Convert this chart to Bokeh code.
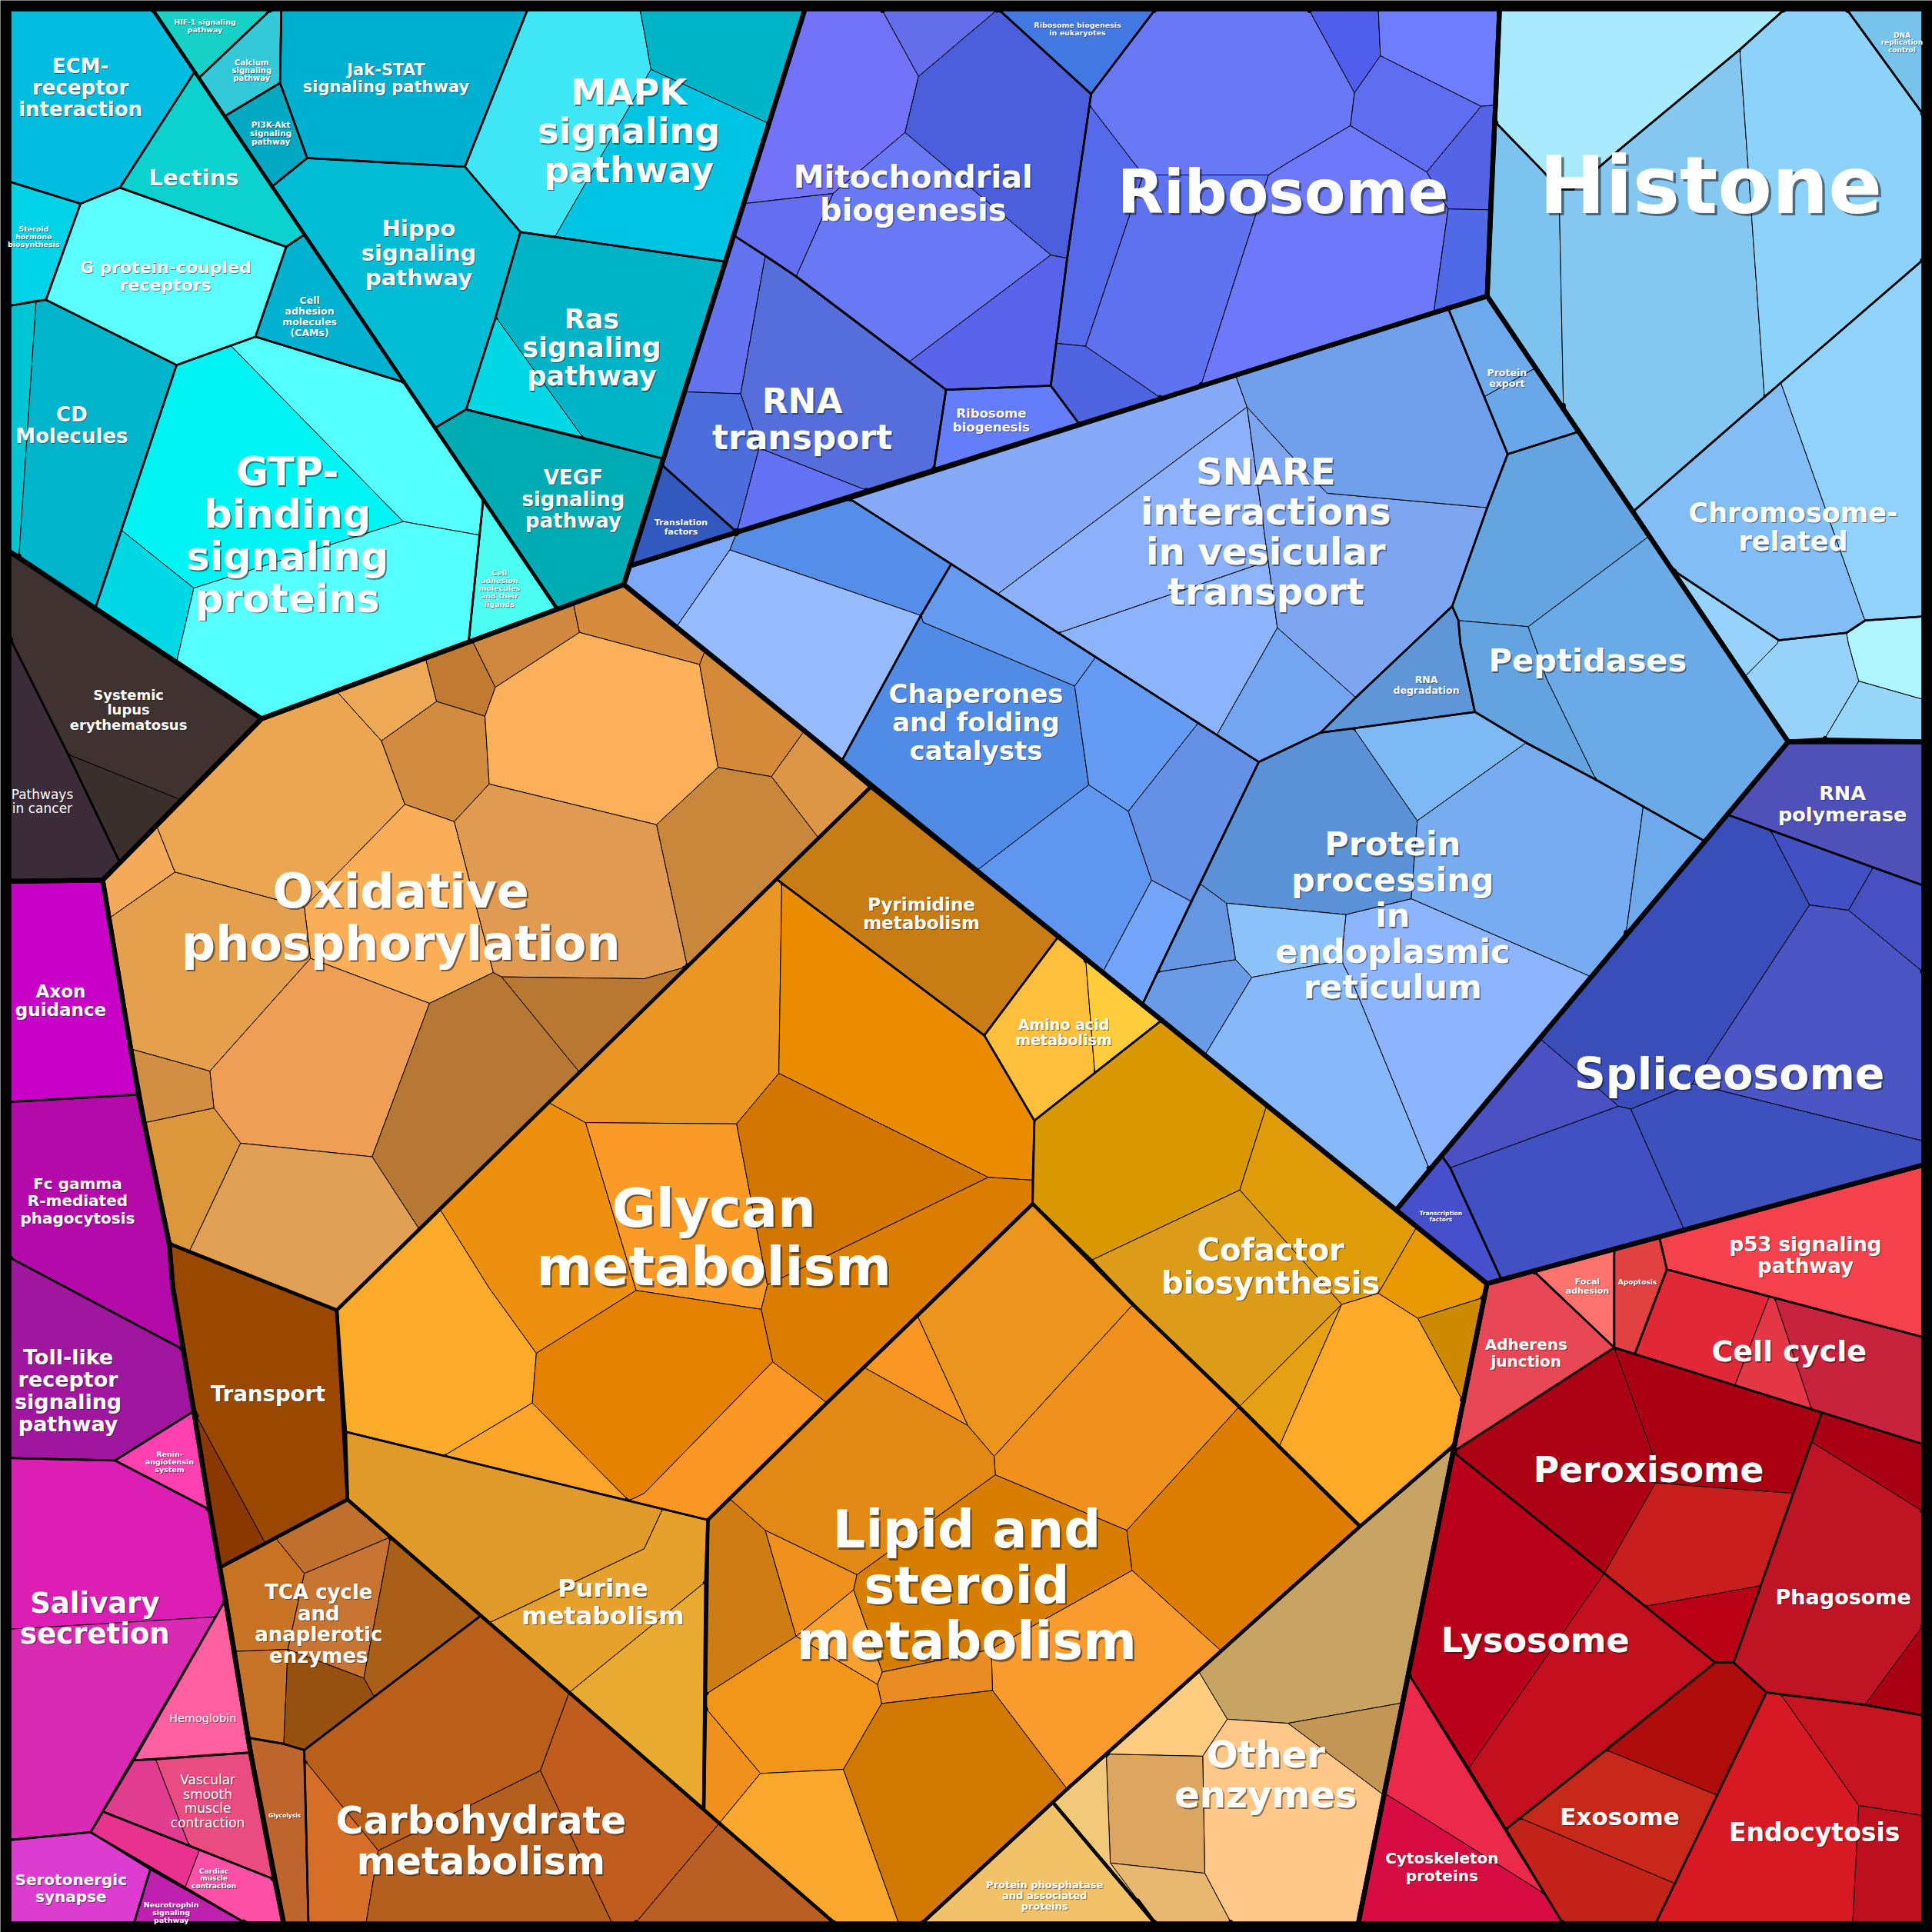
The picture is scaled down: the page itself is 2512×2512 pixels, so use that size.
import numpy as np
from bokeh.plotting import figure
from bokeh.models import ColumnDataSource, Range1d
from bokeh.core.properties import value
from bokeh.embed import file_html
from bokeh.resources import INLINE

# ---------------- cell data: (pathway, colour, polygon) ----------------
CYAN_L = [
 ("ecm", "#02bde0", [(7,7),(123.3,7),(157.7,58),(97,152),(65,165),(7,147)]),
 ("lectins", "#0bd1cf", [(157.7,58),(246.8,190),(232,200),(97,152)]),
 ("steroid", "#00d3e8", [(7,147),(65,165),(37,243),(7,248)]),
 ("gpcr", "#5cffff", [(65,165),(97,152),(232,200),(207,273),(143,296),(37,243)]),
 ("cams", "#00b2cf", [(232,200),(246.8,190),(327.8,310),(207,273)]),
 ("cd", "#00c6d4", [(7,248),(29,244),(15,452.3),(7,447)]),
 ("cd", "#00b4cc", [(29,244),(37,243),(143,296),(98.2,430),(77,493.4),(15,452.3)]),
 ("gtp", "#00f4f4", [(143,296),(187,280.2),(327,423),(157,477),(98.2,430)]),
 ("gtp", "#55ffff", [(187,280.2),(207,273),(327.8,310),(391.9,405),(388.9,434),(327,423)]),
 ("gtp", "#00d8e6", [(77,493.4),(98.2,430),(157,477),(143,537.2)]),
 ("gtp", "#55ffff", [(157,477),(327,423),(388.9,434),(380,520.8),(212,583),(143,537.2)]),
 ("ligands", "#4dfff2", [(391.9,405),(452,494.1),(380,520.8)]),
]
CYAN_R = [
 ("hif", "#17d0c6", [(123.3,7),(220,7),(161.1,63)]),
 ("calcium", "#33c9d9", [(161.1,63),(220,7),(228,7),(227,67),(182,94)]),
 ("pi3k", "#00a9c1", [(182,94),(227,67),(249,128),(220.5,151)]),
 ("jak", "#00b0d0", [(228,7),(428,7),(377,135),(249,128),(227,67)]),
 ("hippo", "#00bcd4", [(249,128),(377,135),(422,188),(402,257),(378,332),(352.7,347),(327.8,310),(220.5,151)]),
 ("mapk", "#3ee6f6", [(428,7),(519,7),(522.5,25),(528,56),(450,192),(422,188),(377,135)]),
 ("mapk", "#00b4c8", [(519,7),(653,7),(623.7,100),(528,56),(522.5,25)]),
 ("mapk", "#00c4e4", [(528,56),(623.7,100),(588.5,212),(450,192)]),
 ("ras", "#00b4c8", [(422,188),(450,192),(588.5,212),(538.1,372),(473,355),(402,257)]),
 ("ras", "#00d8e6", [(402,257),(473,355),(378,332)]),
 ("vegf", "#00acb4", [(378,332),(538.1,372),(506,474.1),(452,494.1),(352.7,347)]),
]
BROWN = [
 ("sle", "#3f3230", [(7,447),(212,583),(147,649),(55,612),(7,516)]),
 ("sle", "#3a2f2c", [(55,612),(147,649),(97,699.8)]),
 ("cancer", "#3c2b38", [(7,516),(55,612),(97,699.8),(83,714),(7,715)]),
]
MAGENTA = [
 ("axon", "#c800c8", [(7,715),(83,714),(112,888),(7,894)]),
 ("fc", "#b40aaa", [(7,894),(112,888),(137,1009),(140,1045),(148.5,1095),(7,1020)]),
 ("toll", "#a0169e", [(7,1020),(148.5,1095),(157,1145),(93,1185),(7,1183)]),
 ("renin", "#ff40b0", [(93,1185),(157,1145),(170,1225)]),
 ("saliv", "#dc1eb4", [(7,1183),(93,1185),(170,1225),(182.7,1298),(174.6,1312),(7,1322)]),
 ("saliv", "#d82ab2", [(7,1322),(174.6,1312),(73.3,1486.7),(7,1493)]),
 ("hemo", "#ff60a0", [(182.7,1298),(203,1422),(108.3,1428.3)]),
 ("vsmc", "#e03c90", [(108.3,1428.3),(126,1427.5),(153.3,1497.7),(83.3,1470)]),
 ("vsmc", "#e84c80", [(126,1427.5),(203,1422),(222.5,1525),(153.3,1497.7)]),
 ("cardiac", "#e8328e", [(73.3,1486.7),(83.3,1470),(161.7,1501),(150,1531.6)]),
 ("cardiac", "#ff50a8", [(161.7,1501),(222.5,1525),(230,1561),(200,1561),(150,1531.6)]),
 ("sero", "#dc3cd0", [(7,1493),(73.3,1486.7),(121.7,1516.7),(108.3,1561),(7,1561)]),
 ("neuro", "#c020b0", [(121.7,1516.7),(200,1561),(108.3,1561)]),
]
OXPHOS = [
 ("ox", "#f5aa5a", [(83,714),(126.7,669.6),(141.7,707.5),(88.2,745)]),
 ("ox", "#eca652", [(126.7,669.6),(212,583),(272.7,560.5),(309.3,601),(328.3,652.5),(246.7,736),(141.7,707.5)]),
 ("ox", "#eda955", [(272.7,560.5),(345,533.7),(354,569),(309.3,601)]),
 ("ox", "#c07a32", [(345,533.7),(383,519.7),(401.7,557.5),(393.3,581),(354,569)]),
 ("ox", "#d28c40", [(309.3,601),(354,569),(393.3,581),(396.7,636),(368.3,666.5),(328.3,652.5)]),
 ("ox", "#d08840", [(383,519.7),(465,489.3),(470,513),(401.7,557.5)]),
 ("ox", "#d68c3c", [(465,489.3),(506,474.1),(572,527.6),(567.5,539),(470,513)]),
 ("ox", "#fcb05a", [(393.3,581),(401.7,557.5),(470,513),(567.5,539),(582.5,622.5),(532.5,669),(396.7,636)]),
 ("ox", "#d48a38", [(572,527.6),(652.5,592.8),(625.8,630),(582.5,622.5),(567.5,539)]),
 ("ox", "#dc9646", [(652.5,592.8),(706.7,638),(664,679.8),(625.8,630)]),
 ("ox", "#c8873a", [(532.5,669),(582.5,622.5),(625.8,630),(664,679.8),(557.5,784.2)]),
 ("ox", "#e09a52", [(396.7,636),(532.5,669),(557.5,784.2),(522.7,794),(406.7,792.5),(400,789),(368.3,666.5)]),
 ("ox", "#b87832", [(522.7,794),(557.5,784.2),(470,870),(406.7,792.5)]),
 ("ox", "#fbae58", [(328.3,652.5),(368.3,666.5),(400,789),(348.3,814),(251.7,777.5),(246.7,736)]),
 ("ox", "#e4a04c", [(141.7,707.5),(246.7,736),(251.7,777.5),(170,869),(105.8,851),(88.2,745)]),
 ("ox", "#ee9e55", [(251.7,777.5),(348.3,814),(301.7,938.5),(195,927.5),(173.3,899),(170,869)]),
 ("ox", "#b67834", [(348.3,814),(400,789),(406.7,792.5),(470,870),(340,997.4),(301.7,938.5)]),
 ("ox", "#d28e42", [(105.8,851),(170,869),(173.3,899),(116.8,911)]),
 ("ox", "#dc963c", [(116.8,911),(173.3,899),(195,927.5),(153.3,1015.5),(137,1009)]),
 ("ox", "#e0a055", [(195,927.5),(301.7,938.5),(340,997.4),(273,1063),(153.3,1015.5)]),
]
TRANSPORT = [
 ("transport", "#9a4800", [(137,1009),(273,1063),(281.7,1216.7),(215,1252.3),(157,1145),(140,1045)]),
 ("transport", "#8a3800", [(157,1145),(215,1252.3),(178,1272),(170,1225)]),
]
TCA_CARB = [
 ("tca", "#c87323", [(178,1272),(223.3,1247.8),(246.7,1276.7),(233.3,1338.3),(189.8,1340),(182.7,1298)]),
 ("tca", "#c0702d", [(223.3,1247.8),(281.7,1216.7),(316.7,1247.2),(246.7,1276.7)]),
 ("tca", "#c87432", [(246.7,1276.7),(316.7,1247.2),(295,1361.7),(233.3,1338.3)]),
 ("tca", "#aa5f19", [(316.7,1247.2),(390,1310.9),(303.3,1376.7),(295,1361.7)]),
 ("tca", "#c87428", [(189.8,1340),(233.3,1338.3),(230,1415),(201,1410)]),
 ("tca", "#96500f", [(233.3,1338.3),(295,1361.7),(303.3,1376.7),(246.7,1420),(230,1415)]),
 ("glyco", "#be642d", [(201,1410),(230,1415),(246.7,1420),(250,1561),(230,1561),(203,1422)]),
 ("carb", "#b95f19", [(246.7,1420),(390,1310.9),(461.7,1373.3),(438.3,1436.7),(306.7,1501.7),(246.7,1428)]),
 ("carb", "#d76e28", [(246.7,1428),(306.7,1501.7),(296.7,1561),(250,1561)]),
 ("carb", "#b45f1e", [(306.7,1501.7),(438.3,1436.7),(496.7,1561),(296.7,1561)]),
 ("carb", "#c05c1e", [(461.7,1373.3),(583.5,1479.4),(515,1561),(496.7,1561),(438.3,1436.7)]),
 ("carb", "#b95f23", [(583.5,1479.4),(677.5,1561),(515,1561)]),
]
MIXED = [
 ("pyrim", "#c87d14", [(706.7,638),(858.7,759.8),(798.5,840),(629.9,713.2)]),
 ("amino", "#fdbf3c", [(858.7,759.8),(880.8,777.7),(888.2,870.5),(839.2,909.2),(798.5,840)]),
 ("amino", "#ffcd3c", [(880.8,777.7),(942.5,827.7),(888.2,870.5)]),
 ("glycan", "#fcaa2a", [(273,1063),(356.7,981),(396.7,1045),(435,1098),(431.7,1138.3),(360,1181.2),(280,1161.7)]),
 ("glycan", "#ee900f", [(356.7,981),(445,894.5),(475,910.8),(516,1047),(435,1098),(396.7,1045)]),
 ("glycan", "#eb9623", [(445,894.5),(629.9,713.2),(634.2,716.4),(631.8,870.8),(597.5,911.8),(475,910.8)]),
 ("glycan", "#eb8c00", [(634.2,716.4),(798.5,840),(839.2,909.2),(837.8,957.5),(801.8,955.2),(631.8,870.8)]),
 ("glycan", "#fa9b28", [(475,910.8),(597.5,911.8),(622.5,1042.5),(617.5,1062.3),(516,1047)]),
 ("glycan", "#d27600", [(597.5,911.8),(631.8,870.8),(801.8,955.2),(622.5,1042.5)]),
 ("glycan", "#da7d00", [(622.5,1042.5),(801.8,955.2),(837.8,957.5),(837.8,976.7),(767.5,1045),(670.8,1138.3),(626.8,1105),(617.5,1062.3)]),
 ("glycan", "#e48200", [(516,1047),(617.5,1062.3),(626.8,1105),(522.5,1211.7),(510,1217.7),(431.7,1138.3),(435,1098)]),
 ("glycan", "#fa9623", [(626.8,1105),(670.8,1138.3),(574.2,1233.3),(510,1217.7),(522.5,1211.7)]),
 ("glycan", "#fca528", [(360,1181.2),(431.7,1138.3),(510,1217.7)]),
 ("purine", "#e09a2a", [(280,1161.7),(537.5,1224.4),(522.5,1256.7),(396.7,1316.8),(281.7,1216.7)]),
 ("purine", "#e6a02c", [(537.5,1224.4),(574.2,1233.3),(572.5,1283.3),(461.7,1373.3),(396.7,1316.8),(522.5,1256.7)]),
 ("purine", "#e8aa30", [(572.5,1283.3),(570.8,1468.3),(461.7,1373.3)]),
 ("cofactor", "#da9800", [(839.2,909.2),(942.5,827.7),(1027.8,896.8),(1005.9,965.5),(885.3,1022.6),(837.8,976.7)]),
 ("cofactor", "#e09b08", [(1027.8,896.8),(1149.6,995.4),(1118.4,1049.3),(1088.6,1058.4),(1005.9,965.5)]),
 ("cofactor", "#dc9b19", [(885.3,1022.6),(1005.9,965.5),(1088.6,1058.4),(1005.4,1141.4),(919.2,1058.4)]),
 ("cofactor", "#e6a014", [(1088.6,1058.4),(1005.4,1141.4),(1037.9,1173.8)]),
 ("cofactor", "#fcaa28", [(1088.6,1058.4),(1118.4,1049.3),(1150.4,1069.6),(1187.2,1137.2),(1180.2,1172.4),(1103.5,1238.5),(1037.9,1173.8)]),
 ("cofactor", "#e89800", [(1118.4,1049.3),(1149.6,995.4),(1206.5,1041.5),(1204.4,1052.5),(1150.4,1069.6)]),
 ("cofactor", "#cd8a00", [(1150.4,1069.6),(1204.4,1052.5),(1187.2,1137.2)]),
]
LIPID = [
 ("lipid", "#eb941e", [(767.5,1045),(837.8,976.7),(919.2,1058.4),(806.5,1181.7),(785.2,1156.7),(744.2,1067.5)]),
 ("lipid", "#f0911e", [(919.2,1058.4),(1005.4,1141.4),(914.2,1241.7),(807.5,1196.7),(806.5,1181.7)]),
 ("lipid", "#fa9623", [(744.2,1067.5),(785.2,1156.7),(700.8,1109.4)]),
 ("lipid", "#e18914", [(700.8,1109.4),(785.2,1156.7),(806.5,1181.7),(807.5,1196.7),(695.2,1277.7),(620.8,1241.7),(591.8,1216),(670.8,1138.3)]),
 ("lipid", "#cd7d14", [(591.8,1216),(620.8,1241.7),(645.8,1327.7),(572.2,1375),(574.2,1233.3)]),
 ("lipid", "#f0911e", [(620.8,1241.7),(695.2,1277.7),(692.5,1290),(645.8,1327.7)]),
 ("lipid", "#f7a030", [(692.5,1290),(715.8,1356.7),(711.8,1366.7),(645.8,1327.7)]),
 ("lipid", "#d77d00", [(695.2,1277.7),(807.5,1196.7),(914.2,1241.7),(918.5,1274.3),(804.2,1338.3),(715.8,1356.7),(692.5,1290)]),
 ("lipid", "#dc7d00", [(914.2,1241.7),(1005.4,1141.4),(1037.9,1173.8),(1103.5,1238.5),(990.8,1339.6),(918.5,1274.3)]),
 ("lipid", "#fa9b2d", [(918.5,1274.3),(990.8,1339.6),(865.8,1451.7),(805.2,1371.7),(804.2,1338.3)]),
 ("lipid", "#e88c23", [(715.8,1356.7),(804.2,1338.3),(805.2,1371.7),(715.2,1382.3),(711.8,1366.7)]),
 ("lipid", "#f29619", [(645.8,1327.7),(711.8,1366.7),(715.2,1382.3),(684.2,1435.7),(616.8,1439),(572.2,1385.7),(572.2,1375)]),
 ("lipid", "#f0911e", [(572.2,1385.7),(616.8,1439),(583.5,1479.4),(570.8,1468.3)]),
 ("lipid", "#faa82d", [(616.8,1439),(684.2,1435.7),(729.2,1561),(677.5,1561),(583.5,1479.4)]),
 ("lipid", "#d07800", [(684.2,1435.7),(715.2,1382.3),(805.2,1371.7),(865.8,1451.7),(747.5,1561),(729.2,1561)]),
]
OTHER = [
 ("other", "#ffcc80", [(972.5,1356),(995.8,1395),(975.8,1425),(897.5,1423.3)]),
 ("other", "#c8a464", [(972.5,1356),(1103.5,1238.5),(1180.2,1172.4),(1138,1381.7),(1045,1398.3),(995.8,1395)]),
 ("other", "#c39655", [(1045,1398.3),(1138,1381.7),(1122.9,1456.7)]),
 ("other", "#ffc888", [(975.8,1425),(995.8,1395),(1045,1398.3),(1122.9,1456.7),(1102,1561),(999.2,1561),(977.5,1520)]),
 ("other", "#dca660", [(897.5,1423.3),(975.8,1425),(977.5,1520),(900.8,1511.7)]),
 ("other", "#e8b870", [(900.8,1511.7),(977.5,1520),(999.2,1561),(937.5,1561)]),
 ("other", "#f2c87a", [(854.2,1462.4),(865.8,1451.7),(897.5,1423.3),(900.8,1511.7),(937.5,1561)]),
]
PPHOS = [
 ("pphos", "#f2c269", [(747.5,1561),(854.2,1462.4),(937.5,1561)]),
]
PURPLE = [
 ("mito", "#7373fa", [(653,7),(715.2,7),(745.2,61.7),(734.2,107.3),(675.8,156.7),(603.3,165)]),
 ("mito", "#646eeb", [(715.2,7),(809.8,7),(745.2,61.7)]),
 ("mito", "#4b5fdc", [(809.8,7),(885.2,76),(865.8,209.3),(852.5,206.7),(734.2,107.3),(745.2,61.7)]),
 ("mito", "#6978f5", [(734.2,107.3),(852.5,206.7),(737.5,293.3),(645.8,224),(675.8,156.7)]),
 ("mito", "#646ef0", [(603.3,165),(675.8,156.7),(645.8,224),(620.8,207.3),(595.2,190.7)]),
 ("mito", "#5a64eb", [(645.8,224),(737.5,293.3),(852.5,206.7),(865.8,209.3),(852.5,312.7),(767.5,316)]),
 ("rnat", "#6473f0", [(595.2,190.7),(620.8,207.3),(600.8,319.3),(555.2,317.7)]),
 ("rnat", "#556edc", [(620.8,207.3),(645.8,224),(767.5,316),(757.5,381.3),(704.2,398.1),(615.8,363.3),(600.8,319.3)]),
 ("rnat", "#4b6edc", [(555.2,317.7),(600.8,319.3),(615.8,363.3),(597.7,431.6),(536.6,376.7)]),
 ("rnat", "#6473f5", [(615.8,363.3),(704.2,398.1),(597.7,431.6)]),
 ("transl", "#325abe", [(536.6,376.7),(597.7,431.6),(510.7,459)]),
 ("ribobio", "#647dfa", [(767.5,316),(852.5,312.7),(875.8,344.1),(757.5,381.3)]),
 ("ribobioeuk", "#4178e1", [(809.8,7),(937.5,7),(885.2,76)]),
 ("ribo", "#6978f5", [(885.2,76),(937.5,7),(1061.7,7),(1099,75),(1095.7,101.7),(1045,131.7),(1029.2,141.7),(927.5,141.7),(883.9,85)]),
 ("ribo", "#5569eb", [(883.9,85),(927.5,141.7),(880.8,280.7),(856.9,278.3),(865.8,209.3)]),
 ("ribo", "#4e64e1", [(856.9,278.3),(880.8,280.7),(942.5,323.1),(875.8,344.1),(852.5,312.7)]),
 ("ribo", "#5f73f0", [(927.5,141.7),(1029.2,141.7),(974.2,313.1),(942.5,323.1),(880.8,280.7)]),
 ("ribo", "#6e78fa", [(1029.2,141.7),(1045,131.7),(1095.7,101.7),(1157.7,139.3),(1175,169.3),(1163.3,253.6),(974.2,313.1)]),
 ("ribo", "#505feb", [(1061.7,7),(1118.3,7),(1120,45),(1099,75)]),
 ("ribo", "#6e7dff", [(1118.3,7),(1216.7,7),(1213.4,85),(1201.7,86),(1120,45)]),
 ("ribo", "#5f6ef0", [(1099,75),(1120,45),(1201.7,86),(1157.7,139.3),(1095.7,101.7)]),
 ("ribo", "#5564e6", [(1201.7,86),(1213.4,85),(1209.4,170),(1175,169.3),(1157.7,139.3)]),
 ("ribo", "#5069e6", [(1175,169.3),(1209.4,170),(1206.7,240),(1163.3,253.6)]),
]
HISTONE = [
 ("histtop", "#aaeaff", [(1216.7,7),(1448.3,7),(1411.7,40),(1313.3,121.7),(1276.7,153.3),(1265,153.3),(1251.7,138.3),(1212.8,98.3)]),
 ("histone", "#7dc3f0", [(1212.8,98.3),(1251.7,138.3),(1265,153.3),(1268.6,331.7),(1206.7,240)]),
 ("histone", "#84c8f2", [(1265,153.3),(1276.7,153.3),(1313.3,121.7),(1411.7,40),(1431.7,321.9),(1325,415),(1268.6,331.7)]),
 ("histone", "#8cd2fa", [(1411.7,40),(1448.3,7),(1498.3,7),(1561,93.3),(1561,210),(1445,310.3),(1431.7,321.9)]),
 ("dna", "#78c3eb", [(1498.3,7),(1561,7),(1561,93.3)]),
 ("chromo", "#82bef5", [(1325,415),(1445,310.3),(1513.3,503.3),(1498.3,513.3),(1443.3,519.3),(1356.4,461.7)]),
 ("chromo", "#91d2fc", [(1445,310.3),(1561,210),(1561,500),(1513.3,503.3)]),
 ("chromo2", "#96d2fc", [(1356.4,461.7),(1443.3,519.3),(1441.7,522.5),(1415.5,549.2)]),
 ("chromo2", "#96d2fa", [(1443.3,519.3),(1498.3,513.3),(1500,522.5),(1508.3,552.5),(1480,600.2),(1451,601.8),(1415.5,549.2),(1441.7,522.5)]),
 ("chromo2", "#aff5ff", [(1498.3,513.3),(1513.3,503.3),(1561,500),(1561,567.5),(1508.3,552.5),(1500,522.5)]),
 ("chromo2", "#96d7fa", [(1508.3,552.5),(1561,567.5),(1561,601.8),(1480,600.2)]),
]
SNARE = [
 ("left", "#7ea8fa", [(510.7,459),(597.7,431.6),(592.1,446),(548.6,508.6),(506,474.1)]),
 ("left", "#558ee8", [(597.7,431.6),(688.5,404),(771.7,457.5),(747.1,499.2),(592.1,446)]),
 ("left", "#96bcff", [(592.1,446),(747.1,499.2),(682.8,617.3),(548.6,508.6)]),
 ("chap", "#649bf0", [(771.7,457.5),(889,533),(871.9,556.5),(749,504.9),(747.1,499.2)]),
 ("chap", "#508ce6", [(747.1,499.2),(749,504.9),(871.9,556.5),(883.3,636.7),(792.5,706.2),(682.8,617.3)]),
 ("chap", "#649bf5", [(889,533),(972.2,586.5),(915.4,658.2),(883.3,636.7),(871.9,556.5)]),
 ("chap", "#5f96f0", [(883.3,636.7),(915.4,658.2),(934.3,714.1),(894.6,788.9),(792.5,706.2)]),
 ("chap", "#6491e6", [(972.2,586.5),(1021.3,618.1),(966.5,731.3),(934.3,714.1),(915.4,658.2)]),
 ("chap", "#73a5fa", [(934.3,714.1),(966.5,731.3),(926.8,815),(894.6,788.9)]),
 ("snare", "#87aaf8", [(688.5,404),(1002.5,304.2),(1011.8,330),(809.5,481.8)]),
 ("snare", "#8cb0fa", [(809.5,481.8),(1011.8,330),(1029,455),(858.7,513.5)]),
 ("snare", "#8cb4fc", [(858.7,513.5),(1029,455),(1036.4,509.2),(987.3,596.2),(972.2,586.5),(889,533)]),
 ("snare", "#7da5f0", [(1011.8,330),(1045,366.7),(1076.7,400),(1206.7,411.7),(1178.3,491.7),(1100,565.8),(1036.4,509.2)]),
 ("snare", "#70a0eb", [(1002.5,304.2),(1175,249.9),(1223.3,368.3),(1206.7,411.7),(1076.7,400),(1045,366.7),(1011.8,330)]),
 ("snare", "#73a5f0", [(987.3,596.2),(1036.4,509.2),(1100,565.8),(1071.7,594.2),(1021.3,618.1)]),
 ("pexport", "#6eaaeb", [(1175,249.9),(1206.7,240),(1246,298.3),(1204.3,321.7)]),
 ("pexport", "#68a8e8", [(1204.3,321.7),(1246,298.3),(1281,350),(1223.3,368.3)]),
 ("pept", "#64a5e1", [(1206.7,411.7),(1223.3,368.3),(1281,350),(1338.2,434.8),(1240,508.3),(1183.3,503.3),(1178.3,491.7)]),
 ("pept", "#62a3e0", [(1183.3,503.3),(1240,508.3),(1255,550.8),(1295,632.5),(1238.3,602.5),(1196.7,577.5),(1185,522.5)]),
 ("pept", "#6aaae6", [(1240,508.3),(1338.2,434.8),(1451,601.8),(1383.4,682.5),(1333.3,654.3),(1295,632.5),(1255,550.8)]),
 ("rnadeg", "#5f96d7", [(1178.3,491.7),(1183.3,503.3),(1185,522.5),(1196.7,577.5),(1098.3,590.8),(1071.7,594.2),(1100,565.8)]),
 ("ppER", "#5a91d7", [(1021.3,618.1),(1071.7,594.2),(1098.3,590.8),(1150,665.8),(1145,729.2),(1092,742),(995,732.7),(973.7,717)]),
 ("ppER", "#7db9f5", [(1098.3,590.8),(1196.7,577.5),(1238.3,602.5),(1150,665.8)]),
 ("ppER", "#78acf0", [(1150,665.8),(1238.3,602.5),(1295,632.5),(1333.3,654.3),(1319.1,759.2),(1291.2,792.5),(1145,729.2)]),
 ("ppER", "#6eaaeb", [(1333.3,654.3),(1383.4,682.5),(1319.1,759.2)]),
 ("ppER", "#8cb4ff", [(1092,742),(1145,729.2),(1291.2,792.5),(1159.9,949.2),(1098.3,799.2),(1088.3,779.2)]),
 ("ppER", "#8cc3fa", [(995,732.7),(1092,742),(1088.3,779.2),(1015.6,792.9),(1002.5,778.6)]),
 ("ppER", "#87b9fa", [(1015.6,792.9),(1088.3,779.2),(1098.3,799.2),(1159.9,949.2),(1132.8,981.8),(977.5,856)]),
 ("ppER", "#6496e1", [(973.7,717),(995,732.7),(1002.5,778.6),(939.2,788.6)]),
 ("ppER", "#699be6", [(939.2,788.6),(1002.5,778.6),(1015.6,792.9),(977.5,856),(926.8,815)]),
]
SPLICE = [
 ("rnapol", "#5050b9", [(1451,601.8),(1561,601.8),(1561,718.5),(1401.6,660.8)]),
 ("splice", "#3a4eb9", [(1401.6,660.8),(1436.7,673.5),(1468.3,734.2),(1373.3,879.2),(1323.3,899.8),(1313.3,897.5),(1249.3,842.5)]),
 ("splice", "#4150c3", [(1436.7,673.5),(1520,703.7),(1500,738.5),(1468.3,734.2)]),
 ("splice", "#4650c3", [(1520,703.7),(1561,718.5),(1561,789.2),(1500,738.5)]),
 ("splice", "#4b55c3", [(1468.3,734.2),(1500,738.5),(1561,789.2),(1561,925.8),(1373.3,879.2)]),
 ("splice", "#4b50c3", [(1249.3,842.5),(1313.3,897.5),(1176.7,947.5),(1169.7,937.5)]),
 ("splice", "#4150c3", [(1313.3,897.5),(1323.3,899.8),(1366.7,997.9),(1218.3,1038.3),(1176.7,947.5)]),
 ("splice", "#3c50be", [(1323.3,899.8),(1373.3,879.2),(1561,925.8),(1561,945),(1366.7,997.9)]),
 ("tfac", "#4650cd", [(1132.8,981.8),(1169.7,937.5),(1176.7,947.5),(1218.3,1038.3),(1206.5,1041.5)]),
]
RED = [
 ("adher", "#e84855", [(1206.5,1041.5),(1244.3,1031.2),(1309.8,1093.4),(1179,1178)]),
 ("focal", "#ff736e", [(1244.3,1031.2),(1309.8,1013.4),(1309.8,1093.4)]),
 ("apop", "#e14141", [(1309.8,1013.4),(1346.3,1003.5),(1352.5,1029.9),(1326.5,1098.6),(1309.8,1093.4)]),
 ("p53", "#f5414b", [(1346.3,1003.5),(1561,945),(1561,1085),(1352.5,1029.9)]),
 ("cellcycle", "#e12837", [(1309.8,1093.4),(1326.5,1098.6),(1352.5,1029.9),(1435.7,1051.9),(1407.7,1124)]),
 ("cellcycle", "#e43746", [(1435.7,1051.9),(1440,1053),(1470,1143.5),(1407.7,1124)]),
 ("cellcycle", "#c8233c", [(1440,1053),(1561,1085),(1561,1172),(1470,1143.5)]),
 ("perox", "#ac0014", [(1179,1178),(1309.8,1093.4),(1341.7,1181.7),(1343.3,1203.3),(1301.7,1276.7)]),
 ("perox", "#aa0012", [(1309.8,1093.4),(1478.3,1146.1),(1455.1,1211.7),(1343.3,1203.3),(1341.7,1181.7)]),
 ("perox", "#c81e1e", [(1343.3,1203.3),(1455.1,1211.7),(1428.7,1286.7),(1335,1303.3),(1301.7,1276.7)]),
 ("perox", "#b90014", [(1301.7,1276.7),(1335,1303.3),(1428.7,1286.7),(1406.7,1349),(1391.7,1349)]),
 ("lyso", "#b9001a", [(1179,1178),(1301.7,1276.7),(1191.7,1435),(1142.8,1358)]),
 ("lyso", "#c30f1e", [(1301.7,1276.7),(1391.7,1349),(1222,1484.3),(1191.7,1435)]),
 ("exo", "#af0c0c", [(1391.7,1349),(1406.7,1349),(1433.3,1373.3),(1393.3,1456.7),(1303.3,1420)]),
 ("exo", "#c82819", [(1303.3,1420),(1393.3,1456.7),(1359,1528.3),(1233.3,1475.3)]),
 ("exo", "#c32319", [(1233.3,1475.3),(1359,1528.3),(1343.3,1561),(1268.3,1561),(1222,1484.3)]),
 ("phago", "#aa0014", [(1478.3,1146.1),(1561,1172),(1561,1226.7),(1469.9,1170)]),
 ("phago", "#be1423", [(1469.9,1170),(1561,1226.7),(1561,1318.3),(1513.3,1383.3),(1433.3,1373.3),(1406.7,1349),(1428.7,1286.7),(1455.1,1211.7)]),
 ("phago", "#aa0014", [(1561,1318.3),(1561,1392),(1513.3,1383.3)]),
 ("endo", "#d71923", [(1433.3,1373.3),(1445,1374.8),(1508.3,1465),(1503.3,1561),(1343.3,1561)]),
 ("endo", "#c61420", [(1445,1374.8),(1513.3,1383.3),(1561,1392),(1561,1473.3),(1508.3,1465)]),
 ("endo", "#be0f1e", [(1508.3,1465),(1561,1473.3),(1561,1561),(1503.3,1561)]),
 ("cyto", "#eb2a4b", [(1142.8,1358),(1253.3,1536.7),(1123.3,1455)]),
 ("cyto", "#d60c42", [(1123.3,1455),(1253.3,1536.7),(1268.3,1561),(1102,1561)]),
]

LAYOUT = [
 ("cyan", "L", CYAN_L), ("cyan", "R", CYAN_R), ("brown", "A", BROWN),
 ("magenta", "A", MAGENTA), ("orange", "ox", OXPHOS), ("orange", "tr", TRANSPORT),
 ("orange", "tca", TCA_CARB), ("orange", "mix", MIXED), ("orange", "lip", LIPID),
 ("orange", "oth", OTHER), ("orange", "pp", PPHOS), ("purple", "A", PURPLE),
 ("histone", "A", HISTONE), ("snare", "A", SNARE), ("splice", "A", SPLICE), ("red", "A", RED),
]

# ---------------- labels ----------------
LABEL_TEXT = [
 "ECM-\nreceptor\ninteraction", "Lectins", "Steroid\nhormone\nbiosynthesis", "G protein-coupled\nreceptors",
 "Cell\nadhesion\nmolecules\n(CAMs)", "CD\nMolecules", "GTP-\nbinding\nsignaling\nproteins",
 "Cell\nadhesion\nmolecules\nand their\nligands", "HIF-1 signaling\npathway", "Calcium\nsignaling\npathway",
 "PI3K-Akt\nsignaling\npathway", "Jak-STAT\nsignaling pathway", "Hippo\nsignaling\npathway",
 "MAPK\nsignaling\npathway", "Ras\nsignaling\npathway", "VEGF\nsignaling\npathway",
 "Systemic\nlupus\nerythematosus", "Axon\nguidance", "Fc gamma\nR-mediated\nphagocytosis",
 "Toll-like\nreceptor\nsignaling\npathway", "Renin-\nangiotensin\nsystem", "Salivary\nsecretion",
 "Cardiac\nmuscle\ncontraction", "Serotonergic\nsynapse", "Neurotrophin\nsignaling\npathway",
 "Oxidative\nphosphorylation", "Transport", "TCA cycle\nand\nanaplerotic\nenzymes", "Glycolysis",
 "Carbohydrate\nmetabolism", "Glycan\nmetabolism", "Purine\nmetabolism", "Pyrimidine\nmetabolism",
 "Amino acid\nmetabolism", "Cofactor\nbiosynthesis", "Lipid and\nsteroid\nmetabolism", "Other\nenzymes",
 "Protein phosphatase\nand associated\nproteins",
 "Mitochondrial\nbiogenesis", "Ribosome", "Ribosome biogenesis\nin eukaryotes", "RNA\ntransport",
 "Ribosome\nbiogenesis", "Translation\nfactors", "Histone", "DNA\nreplication\ncontrol", "Chromosome-\nrelated",
 "SNARE\ninteractions\nin vesicular\ntransport", "Chaperones\nand folding\ncatalysts",
 "Protein\nprocessing\nin\nendoplasmic\nreticulum", "Peptidases", "RNA\ndegradation", "Protein\nexport",
 "RNA\npolymerase", "Spliceosome", "Transcription\nfactors",
 "p53 signaling\npathway", "Focal\nadhesion", "Apoptosis", "Adherens\njunction", "Cell cycle", "Peroxisome",
 "Lysosome", "Phagosome", "Exosome", "Endocytosis", "Cytoskeleton\nproteins",
]
LABEL_X = [65, 157, 27, 134, 251, 58, 233, 405, 166, 204, 219.5, 313, 339.6, 510, 480, 465,
           104, 49, 62.7, 55, 137.3, 76.7, 173.3, 57.3, 138.7,
           325, 217.3, 258.3, 230.7, 390, 579, 489, 747.5, 863, 1031, 784.2, 1027, 847.5,
           740.8, 1041, 874.2, 650.8, 804.2, 552.4, 1388, 1543.3, 1455,
           1027, 791.8, 1130, 1288.3, 1157.3, 1222.7, 1495, 1403.3, 1169,
           1465, 1288, 1328.6, 1238.3, 1451.7, 1337.7, 1245.7, 1495.7, 1314.3, 1472.3, 1170]
LABEL_Y = [70.7, 144, 191.7, 224, 256.7, 345, 434, 477, 20.7, 56.7, 107.8, 63.4, 205, 106, 282, 405,
           575.8, 811.8, 974.2, 1128.3, 1186, 1313.3, 1524.3, 1532.3, 1551.7,
           744, 1131, 1317.7, 1473, 1494, 1004, 1300, 741.5, 837.5, 1027.4, 1286.7, 1440, 1538.3,
           156.7, 156, 23.3, 340, 340.7, 427.5, 150, 34.3, 427.7,
           431, 585.8, 742.5, 535.8, 555.8, 306.7, 651.8, 870.8, 987,
           1018.2, 1043.5, 1040.4, 1097.7, 1096.7, 1192.7, 1331, 1295.7, 1474.3, 1486.7, 1515]
LABEL_SIZE = [26, 29, 9.5, 22, 12.5, 26, 51, 9.5, 9.5, 10, 10.5, 21, 29, 46, 35, 26,
              18, 23, 20, 27, 9.5, 37, 9, 20, 9.5,
              62, 27.5, 26, 7.5, 49, 70, 32, 23, 19, 40, 67, 48, 13,
              40, 78, 9.5, 44, 16.5, 11, 103, 9, 35,
              48, 34, 43, 41.5, 12.5, 12.5, 25.5, 57, 7.5,
              26, 11, 9, 20, 38, 45.5, 44.5, 27, 31, 33, 20]

REG_TEXT = ["Pathways\nin cancer", "Hemoglobin", "Vascular\nsmooth\nmuscle\ncontraction"]
REG_X = [34, 164.3, 168.3]
REG_Y = [650.2, 1394, 1461.7]
REG_SIZE = [17, 14.5, 17]

# ---------------- geometry: classify every boundary piece ----------------
cells = []
gid, sid, pid = {}, {}, {}
for g, s, lst in LAYOUT:
    for parent, col, pts in lst:
        cells.append(dict(g=gid.setdefault(g, len(gid)),
                          s=sid.setdefault(g + s, len(sid)),
                          p=pid.setdefault(g + s + parent, len(pid)),
                          color=col, pts=np.array(pts, float)))
N = len(cells)
G = np.array([c["g"] for c in cells]); S = np.array([c["s"] for c in cells]); P = np.array([c["p"] for c in cells])
bbox = np.array([[c["pts"][:, 0].min(), c["pts"][:, 1].min(), c["pts"][:, 0].max(), c["pts"][:, 1].max()] for c in cells])


def contains(poly, px, py):
    x, y = poly[:, 0], poly[:, 1]
    inside = np.zeros(px.shape, bool)
    j = len(x) - 1
    with np.errstate(divide="ignore", invalid="ignore"):
        for i in range(len(x)):
            cond = (y[i] > py) != (y[j] > py)
            xint = (x[j] - x[i]) * (py - y[i]) / (y[j] - y[i]) + x[i]
            inside ^= cond & (px < xint)
            j = i
    return inside


SP = 1.5
edges = []
SX, SY, NX, NY, SELF = [], [], [], [], []
for ci, c in enumerate(cells):
    pts = c["pts"]
    area = 0.5 * np.sum(pts[:, 0] * np.roll(pts[:, 1], -1) - np.roll(pts[:, 0], -1) * pts[:, 1])
    sgn = 1.0 if area > 0 else -1.0
    for k in range(len(pts)):
        a, b = pts[k], pts[(k + 1) % len(pts)]
        d = b - a
        L = float(np.hypot(d[0], d[1]))
        if L < 1e-6:
            continue
        n = max(1, int(np.ceil(L / SP)))
        t = (np.arange(n) + 0.5) / n
        start = len(SX)
        SX.extend(a[0] + d[0] * t); SY.extend(a[1] + d[1] * t)
        NX.extend([sgn * d[1] / L] * n); NY.extend([-sgn * d[0] / L] * n)
        SELF.extend([ci] * n)
        edges.append((a, d, n, start))
SX, SY, NX, NY, SELF = map(np.array, (SX, SY, NX, NY, SELF))
owner = np.full(len(SX), -1)
for eps in (1.5, 3.5, 6.0):
    todo = np.where(owner < 0)[0]
    if len(todo) == 0:
        break
    qx = SX[todo] + NX[todo] * eps
    qy = SY[todo] + NY[todo] * eps
    for j in range(N):
        bx = bbox[j]
        m = (qx >= bx[0]) & (qx <= bx[2]) & (qy >= bx[1]) & (qy <= bx[3]) & (SELF[todo] != j) & (owner[todo] < 0)
        if not m.any():
            continue
        idx = np.where(m)[0]
        hit = contains(cells[j]["pts"], qx[idx], qy[idx])
        owner[todo[idx[hit]]] = j
lvl = np.full(len(SX), 3)
ok = owner >= 0
o = owner[ok]; me = SELF[ok]
lv = np.where(G[me] != G[o], 3, np.where(S[me] != S[o], 2, np.where(P[me] != P[o], 1, 0)))
lvl[ok] = lv

segs = {1: ([], []), 2: ([], []), 3: ([], [])}
for a, d, n, start in edges:
    lv = lvl[start:start + n]
    i = 0
    while i < n:
        k = i
        while k + 1 < n and lv[k + 1] == lv[i]:
            k += 1
        if lv[i] > 0:
            t0, t1 = i / n, (k + 1) / n
            segs[lv[i]][0].append([a[0] + d[0] * t0, a[0] + d[0] * t1])
            segs[lv[i]][1].append([a[1] + d[1] * t0, a[1] + d[1] * t1])
        i = k + 1

# ---------------- drawing ----------------
p = figure(width=2512, height=2512, x_range=Range1d(0, 1568), y_range=Range1d(1568, 0),
           output_backend="svg", toolbar_location=None, min_border=0,
           x_axis_location=None, y_axis_location=None,
           background_fill_color="black", border_fill_color="black")
p.grid.visible = False
p.outline_line_color = None

cell_src = ColumnDataSource(dict(xs=[list(c["pts"][:, 0]) for c in cells],
                                 ys=[list(c["pts"][:, 1]) for c in cells],
                                 color=[c["color"] for c in cells]))
p.patches("xs", "ys", source=cell_src, fill_color="color", line_color="black", line_width=1.0)

WIDTH = {1: 2.6, 2: 4.4, 3: 6.2}
for level in (1, 2, 3):
    xs, ys = segs[level]
    if xs:
        p.multi_line(xs, ys, line_color="black", line_width=WIDTH[level], line_cap="round", line_join="round")


def add_labels(texts, xs, ys, sizes, style):
    off = [max(1.0, s * 0.035) for s in sizes]
    src = ColumnDataSource(dict(x=xs, y=ys, text=texts, fs=["%.1fpx" % s for s in sizes], xo=off, yo=off))
    common = dict(x="x", y="y", text="text", source=src, text_font=value("DejaVu Sans"),
                  text_font_style=style, text_font_size="fs", text_align="center",
                  text_baseline="middle", text_line_height=0.93)
    p.text(x_offset="xo", y_offset="yo", text_color="#1a1a1a", text_alpha=0.55, **common)
    p.text(text_color="white", **common)


add_labels(LABEL_TEXT, LABEL_X, LABEL_Y, LABEL_SIZE, "bold")
add_labels(REG_TEXT, REG_X, REG_Y, REG_SIZE, "normal")

open("out.html", "w").write(file_html(p, INLINE))
